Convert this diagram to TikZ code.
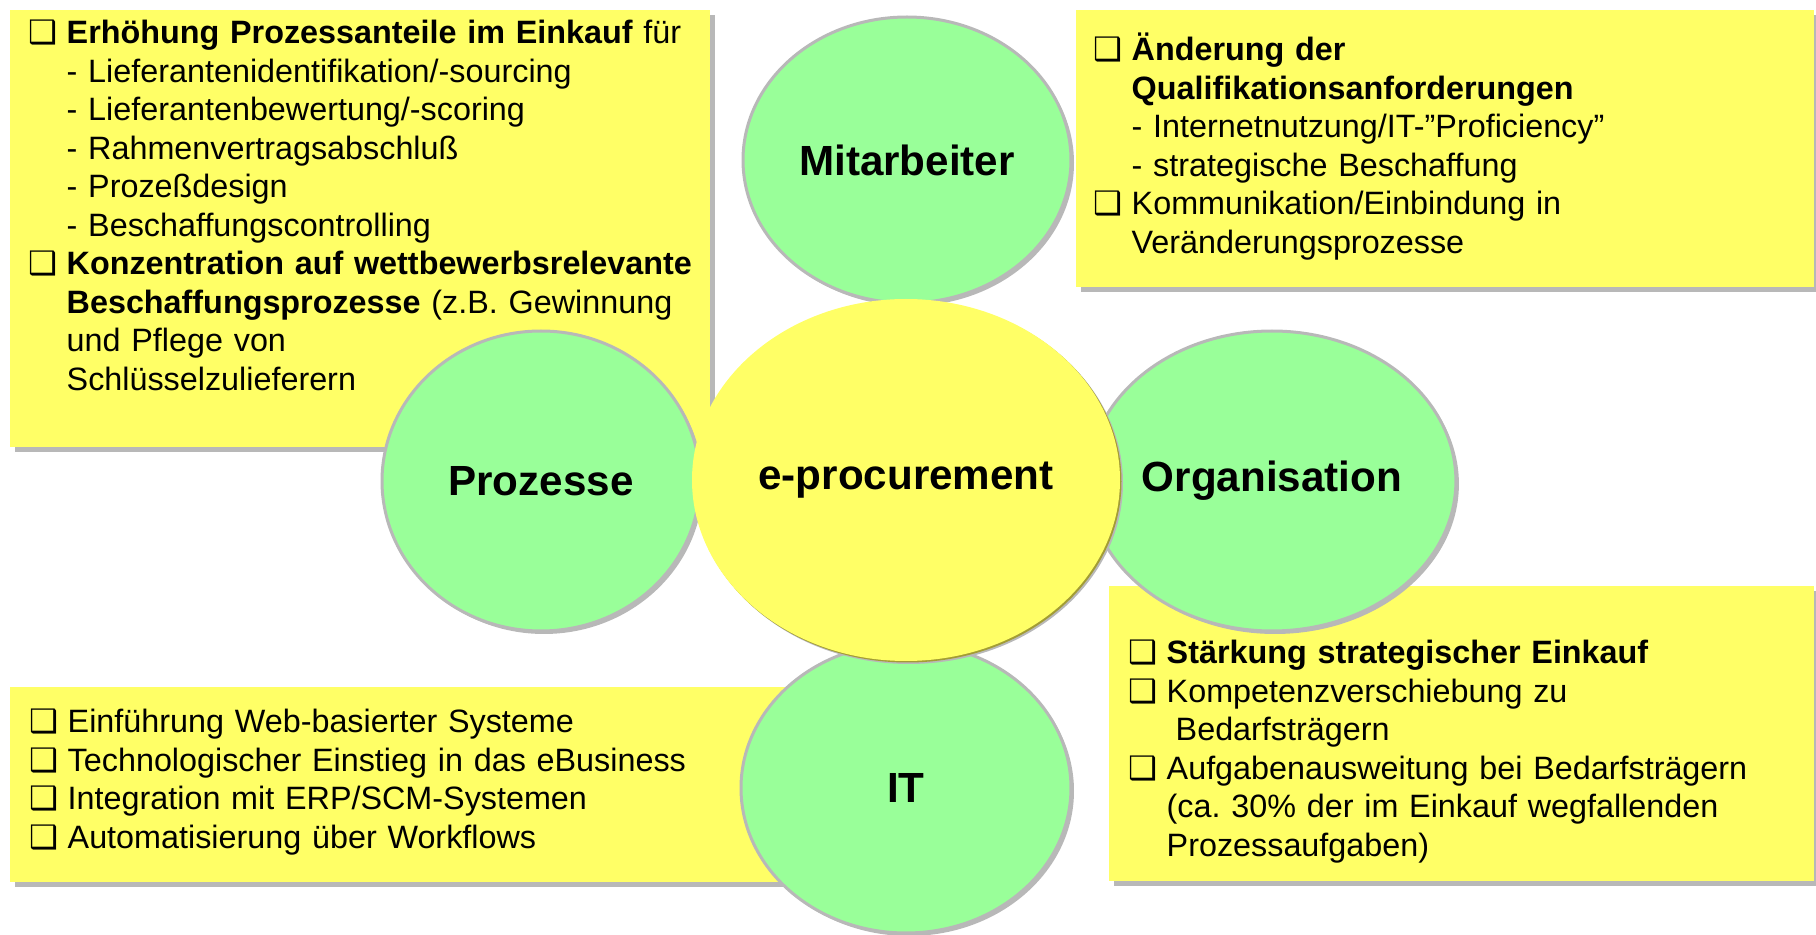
\documentclass[tikz,border=0pt]{standalone}
\usepackage{fontspec}
\setmainfont{Liberation Sans}
\newfontfamily\symfont{DejaVu Sans}
\usetikzlibrary{shapes.geometric,shadows}
\definecolor{note}{HTML}{FFFF66}
\definecolor{leaf}{HTML}{99FF99}
\definecolor{shade}{HTML}{B8B8B8}
\definecolor{olive}{HTML}{A29C34}
\frenchspacing
\newlength\bw
\setlength\bw{3.8mm}
\newcommand\cb{\makebox[\bw][l]{\symfont\fontsize{9.2}{9}\selectfont ❑}}
\newcommand\ind{\hspace*{\bw}}
\tikzset{
  card/.style={anchor=north west,fill=note,inner sep=0pt,
    drop shadow={shadow xshift=0.5mm,shadow yshift=-0.5mm,fill=shade,opacity=1}},
  txt/.style={anchor=base west,inner sep=0pt,align=left,text width=78mm,
    font=\fontsize{9.2}{10.95}\selectfont},
  topic/.style={ellipse,fill=leaf,draw=shade,line width=0.3mm,inner sep=0pt,
    font=\bfseries\fontsize{12}{14}\selectfont,
    drop shadow={shadow xshift=0.3mm,shadow yshift=-0.3mm,fill=shade,opacity=1}},
  hub/.style={topic,fill=note,draw=none,
    drop shadow={shadow xshift=0.15mm,shadow yshift=-0.15mm,fill=olive,opacity=1}},
}

\begin{document}
\begin{tikzpicture}[x=0.1mm,y=-0.1mm]
\useasboundingbox (0,0) rectangle (1816,935);
% yellow note cards
\node[card,minimum width=70mm,minimum height=43.7mm] (cProz) at (9,9) {};
\node[card,minimum width=73.8mm,minimum height=27.7mm] (cMit) at (1075,9) {};
\node[card,minimum width=79mm,minimum height=19.5mm] (cIT) at (9,686) {};
\node[card,minimum width=70.5mm,minimum height=29.5mm] (cOrg) at (1108,585) {};

\node[txt] (tProz) at (28,44) {\cb\textbf{Erhöhung Prozessanteile im Einkauf} für\\
  \ind- Lieferantenidentifikation/-sourcing\\
  \ind- Lieferantenbewertung/-scoring\\
  \ind- Rahmenvertragsabschluß\\
  \ind- Prozeßdesign\\
  \ind- Beschaffungscontrolling\\
  \cb\textbf{Konzentration auf wettbewerbsrelevante}\\
  \ind\textbf{Beschaffungsprozesse} (z.B. Gewinnung\\
  \ind und Pflege von\\
  \ind Schlüsselzulieferern};
\node[txt] (tMit) at (1093,61) {\cb\textbf{Änderung der}\\
  \ind\textbf{Qualifikationsanforderungen}\\
  \ind- Internetnutzung/IT-”Proficiency”\\
  \ind- strategische Beschaffung\\
  \cb Kommunikation/Einbindung in\\
  \ind Veränderungsprozesse};
\node[txt] (tOrg) at (1128,664) {\cb\textbf{Stärkung strategischer Einkauf}\\
  \cb Kompetenzverschiebung zu\\
  \ind\hspace*{0.9mm}Bedarfsträgern\\
  \cb Aufgabenausweitung bei Bedarfsträgern\\
  \ind(ca. 30\% der im Einkauf wegfallenden\\
  \ind Prozessaufgaben)};
\node[txt] (tIT) at (29,733) {\cb Einführung Web-basierter Systeme\\
  \cb Technologischer Einstieg in das eBusiness\\
  \cb Integration mit ERP/SCM-Systemen\\
  \cb Automatisierung über Workflows};

% the four fields round the centre
\foreach \nm/\cx/\cy/\rx/\ry/\lbl in {mit/907/160/164/143/Mitarbeiter,
    proz/541/481/159/150/Prozesse,org/1272/481/162/150/Organisation,
    it/906/788/165/145/IT}
  \node[topic,minimum width=0.2mm*\rx,minimum height=0.2mm*\ry] (\nm) at (\cx,\cy) {\lbl};
\node[hub,minimum width=42.8mm,minimum height=36.2mm] (ep) at (906,480) {e-procurement};
\end{tikzpicture}
\end{document}
